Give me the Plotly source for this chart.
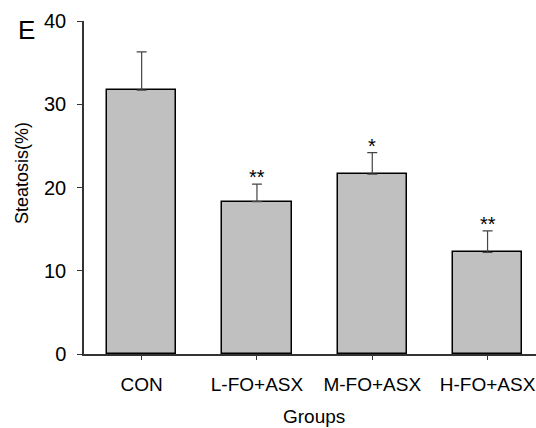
import plotly.graph_objects as go

groups = ["CON", "L-FO+ASX", "M-FO+ASX", "H-FO+ASX"]
steatosis = [31.7, 18.3, 21.6, 12.2]
sem = [4.6, 2.1, 2.6, 2.6]
marks = ["", "**", "*", "**"]
y_ticks = [0, 10, 20, 30, 40]

FONT = "Liberation Sans, Arial, sans-serif"

fig = go.Figure()
fig.add_trace(go.Bar(
    x=list(range(len(groups))), y=steatosis, width=0.6,
    marker=dict(color="#c0c0c0", line=dict(color="#000000", width=1.5)),
    error_y=dict(type="data", array=sem, arrayminus=[0]*len(sem), symmetric=False,
                 color="#444444", thickness=1.2, width=5),
    showlegend=False,
))

for i, m in enumerate(marks):
    if m:
        fig.add_annotation(x=i, y=steatosis[i] + sem[i], text=m, showarrow=False,
                           xref="x", yref="y", xanchor="center", yanchor="bottom", yshift=-6,
                           font=dict(family=FONT, size=20, color="#000"))

fig.add_annotation(x=-0.128, y=0.973, xref="paper", yref="paper", text="E", showarrow=False,
                   xanchor="center", yanchor="middle",
                   font=dict(family=FONT, size=26, color="#000"))
fig.add_annotation(x=-0.137, y=0.5435, xref="paper", yref="paper", text="Steatosis(%)",
                   textangle=-90, showarrow=False, xanchor="center", yanchor="middle",
                   font=dict(family=FONT, size=18, color="#000"))
fig.add_annotation(x=0.509, y=-0.189, xref="paper", yref="paper", text="Groups",
                   showarrow=False, xanchor="center", yanchor="middle",
                   font=dict(family=FONT, size=19, color="#000"))

fig.update_layout(
    width=536, height=428,
    margin=dict(l=84, r=0, t=21, b=74),
    paper_bgcolor="white", plot_bgcolor="white",
    font=dict(family=FONT, size=19, color="#000"),
    bargap=0,
    xaxis=dict(range=[-0.5, 3.42], tickmode="array", tickvals=list(range(len(groups))),
               ticktext=groups, showline=True, linecolor="#333333", linewidth=1.5,
               ticks="outside", ticklen=4, tickcolor="#333333", tickwidth=1,
               showgrid=False, zeroline=False, ticklabelstandoff=8,
               tickfont=dict(family=FONT, size=19, color="#000")),
    yaxis=dict(range=[0, 40], tickmode="array", tickvals=y_ticks,
               showline=True, linecolor="#333333", linewidth=1.5,
               ticks="outside", ticklen=5, tickcolor="#333333", tickwidth=1,
               showgrid=False, zeroline=False, ticklabelstandoff=7,
               tickfont=dict(family=FONT, size=20, color="#000")),
)

fig.write_html("out.html")
